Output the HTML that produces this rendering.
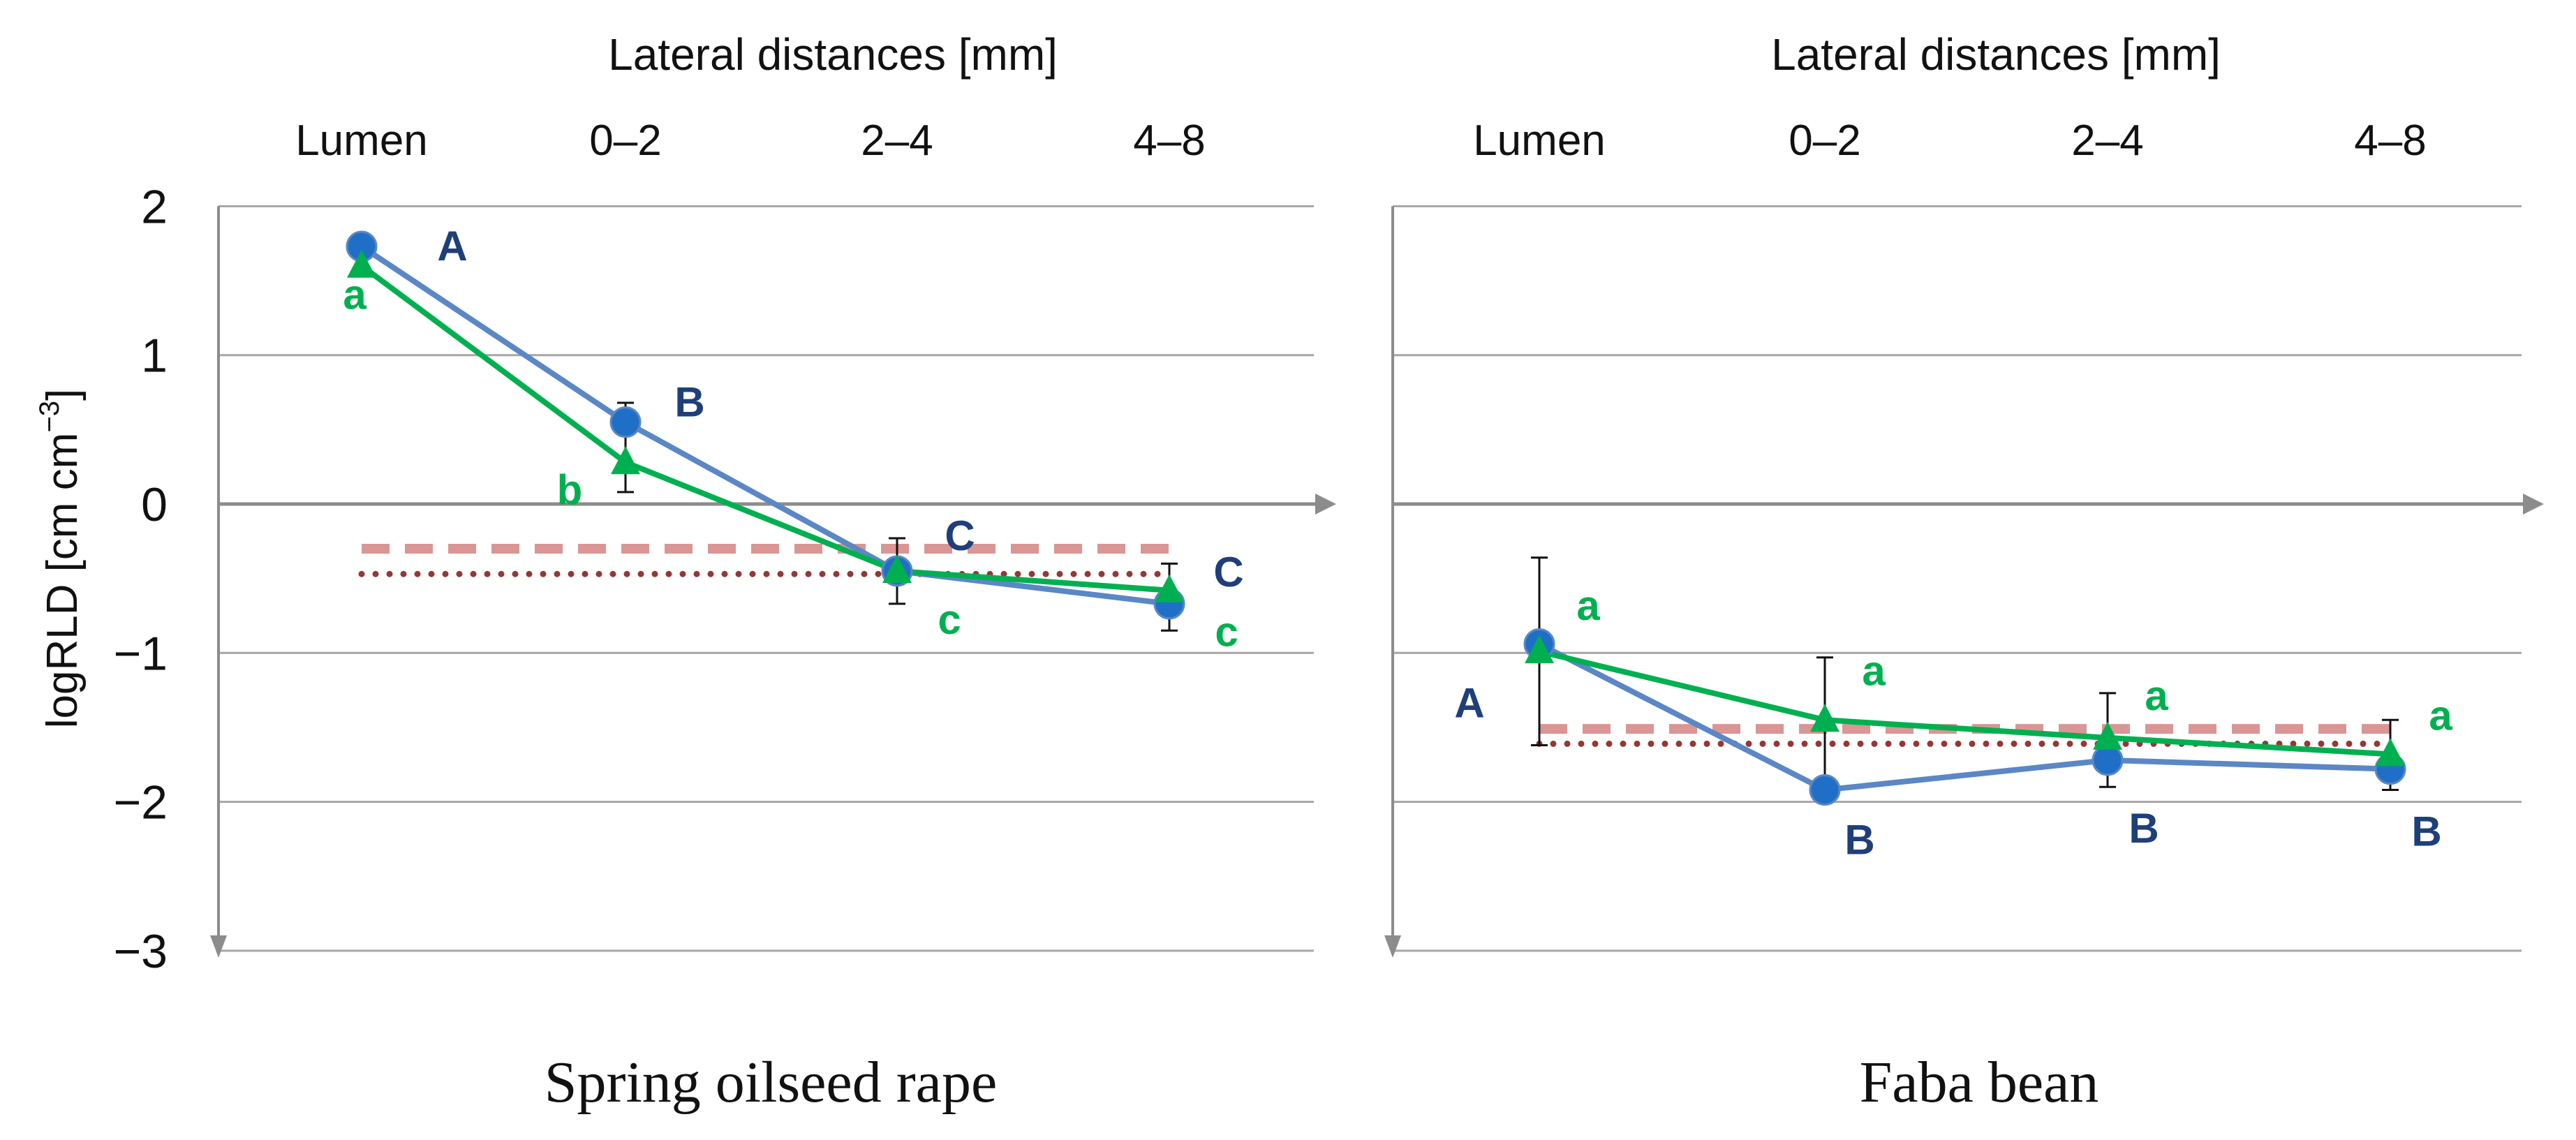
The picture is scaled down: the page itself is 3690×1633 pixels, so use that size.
<!DOCTYPE html>
<html><head><meta charset="utf-8"><style>
html,body{margin:0;padding:0;background:#fff;}
svg{display:block;}
text{font-family:"Liberation Sans",sans-serif;}
text.cap{font-family:"Liberation Serif",serif;}
</style></head><body>
<svg id="chart" width="3690" height="1633" viewBox="0 0 3690 1633" xmlns="http://www.w3.org/2000/svg">
<g id="root"></g>
</svg>
<script>
const categories = ["Lumen","0\u20132","2\u20134","4\u20138"];
const yTicks = [2,1,0,-1,-2,-3];
const yTickLabels = ["2","1","0","\u22121","\u22122","\u22123"];
// Spring oilseed rape
const rapeBlue = [1.73,0.55,-0.45,-0.67];
const rapeGreen = [1.6,0.28,-0.45,-0.58];
const rapeErrLow = [null,0.08,-0.67,-0.85];
const rapeErrHigh = [null,0.68,-0.23,-0.4];
const rapeDashed = -0.3;
const rapeDotted = -0.47;
const rapeBlueLetters = ["A","B","C","C"];
const rapeGreenLetters = ["a","b","c","c"];
// Faba bean
const fabaBlue = [-0.94,-1.92,-1.72,-1.78];
const fabaGreen = [-0.99,-1.45,-1.57,-1.68];
const fabaErrLow = [-1.62,-1.9,-1.9,-1.92];
const fabaErrHigh = [-0.36,-1.03,-1.27,-1.45];
const fabaDashed = -1.51;
const fabaDotted = -1.61;
const fabaBlueLetters = ["A","B","B","B"];
const fabaGreenLetters = ["a","a","a","a"];

const NS="http://www.w3.org/2000/svg";
const root=document.getElementById('root');
function mk(tag,attrs,parent,txt){const e=document.createElementNS(NS,tag);for(const k in attrs)e.setAttribute(k,attrs[k]);if(txt!==undefined)e.textContent=txt;(parent||root).appendChild(e);return e;}

function panel(cfg){
  const g=mk('g',{});
  
  
  const y=v=>722-(v*213.3);
  const x=i=>cfg.xs[i];
  yTicks.forEach((t,i)=>{
    if(t===0) return;
    const l=mk('line',{x1:cfg.left,x2:cfg.right,y1:y(t),y2:y(t),stroke:'#a6a6a6','stroke-width':3},g);
    
    
  });
  const ax=mk('line',{x1:cfg.left,x2:cfg.right+10,y1:y(0),y2:y(0),stroke:'#8c8c8c','stroke-width':5},g);
  
  
  mk('polygon',{points:`${cfg.right+32},${y(0)} ${cfg.right+2},${y(0)-15} ${cfg.right+2},${y(0)+15}`,fill:'#8c8c8c'},g);
  const va=mk('line',{x1:cfg.left,x2:cfg.left,y1:y(2),y2:y(-3)-10,stroke:'#8c8c8c','stroke-width':4},g);
  
  
  mk('polygon',{points:`${cfg.left},${y(-3)+10} ${cfg.left-12},${y(-3)-22} ${cfg.left+12},${y(-3)-22}`,fill:'#8c8c8c'},g);
  if(cfg.tickLabels){
    yTicks.forEach((t,i)=>{
      const tl=mk('text',{x:240,y:y(t)+24,'font-size':68,'text-anchor':'end',fill:'#111'},g,yTickLabels[i]);
      
      
    });
    const yt=mk('text',{transform:'translate(110,800) rotate(-90)','font-size':62,'text-anchor':'middle',fill:'#111'},g);
    
    
    yt.innerHTML='logRLD [cm cm<tspan font-size="40" dy="-26">\u22123</tspan><tspan dy="26">]</tspan>';
  }
  categories.forEach((c,i)=>{
    const t=mk('text',{x:x(i),y:222,'font-size':62,'text-anchor':'middle',fill:'#111'},g,c);
    
    
  });
  const tt=mk('text',{x:cfg.titleX,y:100,'font-size':64,'text-anchor':'middle',fill:'#111'},g,'Lateral distances [mm]');
  
  
  const cap=mk('text',{x:cfg.capX,y:1578,'font-size':84,'text-anchor':'middle',fill:'#111','class':'cap'},g,cfg.caption);
  
  
  const d=mk('line',{x1:x(0),x2:x(3),y1:y(cfg.dashed),y2:y(cfg.dashed),stroke:'#d99694','stroke-width':14,'stroke-dasharray':'40,22'},g);
  
  
  const dt=mk('line',{x1:x(0),x2:x(3),y1:y(cfg.dotted),y2:y(cfg.dotted),stroke:'#953735','stroke-width':9,'stroke-dasharray':'0,20','stroke-linecap':'round'},g);
  
  
  cfg.lo.forEach((lo,i)=>{
    if(lo===null) return;
    const hi=cfg.hi[i];
    const eb=mk('g',{stroke:'#111','stroke-width':3},g);
    
    
    mk('line',{x1:x(i),x2:x(i),y1:y(lo),y2:y(hi)},eb);
    mk('line',{x1:x(i)-12,x2:x(i)+12,y1:y(lo),y2:y(lo)},eb);
    mk('line',{x1:x(i)-12,x2:x(i)+12,y1:y(hi),y2:y(hi)},eb);
  });
  const bp=cfg.blue.map((v,i)=>x(i)+','+y(v)).join(' ');
  const bl=mk('polyline',{points:bp,fill:'none',stroke:'#5b87c5','stroke-width':8},g);
  
  
  const gp=cfg.green.map((v,i)=>x(i)+','+y(v)).join(' ');
  const gl=mk('polyline',{points:gp,fill:'none',stroke:'#00b050','stroke-width':8},g);
  
  
  cfg.blue.forEach((v,i)=>{
    const c=mk('circle',{cx:x(i),cy:y(v),r:21,fill:'#1f6fc6',stroke:'#5b87c5','stroke-width':3},g);
    
    
  });
  cfg.green.forEach((v,i)=>{
    const cx=x(i),cy=y(v);
    const p=mk('polygon',{points:`${cx},${cy-23} ${cx-21},${cy+17} ${cx+21},${cy+17}`,fill:'#00b050'},g);
    
    
  });
  cfg.bLetters.forEach((L,i)=>{
    const t=mk('text',{x:x(i)+cfg.bOff[i][0],y:y(cfg.blue[i])+cfg.bOff[i][1],'font-size':60,'font-weight':'bold',fill:'#1f3f7a','text-anchor':'middle'},g,L);
    
    
  });
  cfg.gLetters.forEach((L,i)=>{
    const t=mk('text',{x:x(i)+cfg.gOff[i][0],y:y(cfg.green[i])+cfg.gOff[i][1],'font-size':60,'font-weight':'bold',fill:'#00b050','text-anchor':'middle'},g,L);
    
    
  });
}

panel({name:'spring-oilseed-rape-panel',left:313,right:1882,xs:[518,896,1285,1675],tickLabels:true,titleX:1193,capX:1104,caption:'Spring oilseed rape',
  blue:rapeBlue,green:rapeGreen,lo:rapeErrLow,hi:rapeErrHigh,dashed:rapeDashed,dotted:rapeDotted,
  bLetters:rapeBlueLetters,gLetters:rapeGreenLetters,
  bOff:[[130,20],[92,-8],[90,-30],[85,-25]],gOff:[[-10,62],[-80,60],[75,90],[82,80]]});
panel({name:'faba-bean-panel',left:1995,right:3612,xs:[2205,2614,3019,3424],tickLabels:false,titleX:2859,capX:2835,caption:'Faba bean',
  blue:fabaBlue,green:fabaGreen,lo:fabaErrLow,hi:fabaErrHigh,dashed:fabaDashed,dotted:fabaDotted,
  bLetters:fabaBlueLetters,gLetters:fabaGreenLetters,
  bOff:[[-100,105],[50,92],[52,118],[52,110]],gOff:[[70,-45],[70,-50],[70,-40],[72,-35]]});
</script>
</body></html>
